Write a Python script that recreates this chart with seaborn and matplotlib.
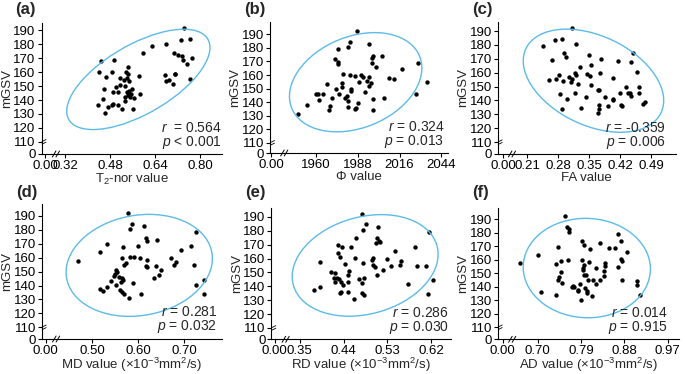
import numpy as np
import matplotlib
matplotlib.use("Agg")
import matplotlib.pyplot as plt
import seaborn as sns
from matplotlib.patches import Ellipse

sns.set_style("ticks")
plt.rcParams["font.family"] = ["Liberation Sans", "DejaVu Sans"]
plt.rcParams["mathtext.fontset"] = "custom"
plt.rcParams["mathtext.rm"] = "Liberation Sans"
plt.rcParams["mathtext.it"] = "Liberation Sans:italic"
plt.rcParams["mathtext.bf"] = "Liberation Sans:bold"

# ---------------- data ----------------
a_x = [0.740, 0.763, 0.731, 0.679, 0.629, 0.598, 0.447, 0.495, 0.707, 0.722,
       0.734, 0.738, 0.769, 0.751, 0.442, 0.487, 0.466, 0.542, 0.536, 0.542,
       0.515, 0.539, 0.582, 0.530, 0.545, 0.514, 0.501, 0.533, 0.676, 0.678,
       0.708, 0.710, 0.689, 0.702, 0.763, 0.458, 0.490, 0.507, 0.538, 0.557,
       0.547, 0.553, 0.542, 0.532, 0.550, 0.563, 0.584, 0.453, 0.534, 0.436,
       0.490, 0.485, 0.474, 0.507, 0.523, 0.561, 0.463]
a_y = [191.9, 184.0, 182.9, 180.2, 178.8, 173.8, 167.9, 168.6, 173.8, 172.1,
       171.4, 168.8, 169.8, 165.5, 160.2, 159.8, 156.7, 163.6, 159.8, 159.0,
       155.7, 155.7, 157.4, 154.0, 153.8, 150.7, 149.5, 150.2, 157.9, 153.8,
       159.0, 158.3, 154.3, 151.4, 154.8, 147.6, 145.5, 145.5, 145.7, 147.9,
       146.4, 144.5, 143.6, 142.4, 142.4, 141.7, 144.5, 140.5, 139.3, 136.4,
       137.4, 136.4, 135.0, 136.4, 133.8, 133.8, 131.0]

b_x = [1987.5, 1983.0, 1975.0, 1981.7, 1995.8, 1972.5, 1974.6, 1974.6, 1998.0, 1997.4,
       2004.5, 1997.6, 2000.5, 2017.5, 2028.3, 2034.3, 2027.1, 2008.8, 2012.2, 1977.9,
       1983.0, 1986.0, 1990.2, 1991.8, 1995.8, 1994.2, 1996.9, 1989.1, 1995.4, 1992.7,
       1983.3, 1983.7, 1977.5, 1977.5, 1973.4, 1967.4, 1970.7, 1975.6, 1979.3, 1960.2,
       1961.3, 1964.5, 1962.2, 1980.8, 1981.5, 1969.4, 1968.5, 1954.0, 1948.1, 1981.7,
       1986.9, 1986.0, 1988.0, 1998.0, 2005.9, 1998.5]
b_y = [192.4, 184.5, 179.3, 180.4, 182.9, 171.6, 169.8, 167.9, 174.0, 172.3,
       174.0, 169.1, 165.7, 164.2, 168.6, 155.1, 146.0, 157.6, 157.1, 160.6,
       159.8, 159.5, 160.0, 158.3, 158.3, 155.8, 154.3, 154.6, 151.9, 147.7,
       149.7, 148.0, 154.3, 151.1, 149.7, 153.6, 143.3, 146.0, 143.3, 146.0,
       145.7, 145.7, 141.6, 144.8, 140.8, 137.2, 134.2, 137.9, 131.0, 136.6,
       135.5, 134.7, 139.2, 142.3, 143.3, 134.0]

c_x = [0.312, 0.247, 0.274, 0.288, 0.320, 0.267, 0.294, 0.297, 0.351, 0.376,
       0.415, 0.444, 0.450, 0.458, 0.355, 0.330, 0.318, 0.321, 0.345, 0.375,
       0.352, 0.281, 0.305, 0.259, 0.276, 0.292, 0.312, 0.310, 0.324, 0.354,
       0.405, 0.434, 0.463, 0.370, 0.373, 0.438, 0.442, 0.420, 0.464, 0.446,
       0.319, 0.284, 0.301, 0.344, 0.387, 0.404, 0.404, 0.373, 0.392, 0.422,
       0.424, 0.472, 0.476, 0.290, 0.332, 0.373, 0.370]
c_y = [192.4, 179.2, 183.3, 184.5, 180.6, 168.9, 174.2, 171.6, 172.5, 169.6,
       168.6, 167.9, 174.2, 160.3, 165.5, 163.9, 160.0, 158.3, 159.3, 159.8,
       157.6, 158.1, 157.1, 154.5, 155.3, 154.3, 155.3, 153.6, 151.7, 151.2,
       156.2, 149.7, 149.7, 147.6, 147.9, 145.6, 145.1, 145.6, 145.6, 143.2,
       145.1, 144.4, 141.3, 142.3, 142.7, 141.3, 140.4, 136.8, 136.3, 136.8,
       135.8, 137.5, 138.7, 133.9, 134.4, 133.9, 130.8]

d_x = [0.578, 0.586, 0.583, 0.612, 0.618, 0.619, 0.640, 0.600, 0.567, 0.533,
       0.726, 0.716, 0.693, 0.469, 0.516, 0.565, 0.583, 0.592, 0.603, 0.619,
       0.573, 0.570, 0.618, 0.619, 0.639, 0.672, 0.683, 0.679, 0.721, 0.650,
       0.645, 0.635, 0.551, 0.554, 0.549, 0.547, 0.558, 0.565, 0.567, 0.541,
       0.563, 0.589, 0.552, 0.516, 0.524, 0.532, 0.561, 0.564, 0.570, 0.606,
       0.580, 0.744, 0.727, 0.744]
d_y = [191.9, 184.5, 180.5, 182.9, 174.0, 171.7, 172.6, 168.6, 167.9, 169.8,
       178.8, 168.6, 165.5, 157.4, 163.8, 159.8, 160.2, 160.7, 159.8, 158.3,
       156.0, 155.0, 154.3, 153.1, 154.3, 159.5, 157.1, 154.8, 154.8, 151.2,
       147.6, 145.5, 151.2, 150.0, 148.3, 147.1, 146.0, 145.5, 144.0, 143.1,
       142.4, 141.9, 140.7, 137.6, 136.4, 139.3, 136.9, 135.2, 134.0, 133.6,
       131.0, 144.3, 140.7, 134.0]

e_x = [0.478, 0.487, 0.479, 0.510, 0.466, 0.508, 0.512, 0.514, 0.506, 0.428,
       0.437, 0.455, 0.428, 0.432, 0.545, 0.586, 0.615, 0.392, 0.464, 0.479,
       0.443, 0.498, 0.500, 0.500, 0.505, 0.530, 0.538, 0.520, 0.558, 0.555,
       0.590, 0.508, 0.452, 0.449, 0.415, 0.422, 0.420, 0.426, 0.430, 0.423,
       0.435, 0.438, 0.472, 0.482, 0.478, 0.450, 0.435, 0.433, 0.449, 0.392,
       0.380, 0.478, 0.481, 0.462, 0.573, 0.610, 0.613, 0.624]
e_y = [192.4, 184.7, 180.7, 183.1, 174.5, 174.5, 172.8, 172.1, 171.6, 169.9,
       168.3, 168.7, 164.0, 160.9, 165.6, 168.7, 179.5, 157.7, 160.1, 156.8,
       155.8, 158.9, 160.1, 155.4, 154.2, 159.7, 154.9, 151.8, 158.2, 155.4,
       154.9, 148.4, 151.3, 148.2, 150.1, 149.6, 145.8, 145.8, 145.3, 142.9,
       142.9, 141.3, 145.3, 145.8, 142.5, 142.9, 136.2, 135.3, 136.2, 139.4,
       137.7, 135.1, 134.1, 131.0, 141.7, 154.9, 134.6, 144.6]

f_x = [0.756, 0.760, 0.764, 0.766, 0.663, 0.701, 0.742, 0.706, 0.739, 0.737,
       0.748, 0.762, 0.748, 0.744, 0.742, 0.751, 0.791, 0.796, 0.808, 0.829,
       0.848, 0.860, 0.867, 0.873, 0.886, 0.873, 0.875, 0.866, 0.876, 0.907,
       0.907, 0.913, 0.793, 0.807, 0.796, 0.795, 0.794, 0.821, 0.840, 0.839,
       0.838, 0.837, 0.830, 0.814, 0.800, 0.796, 0.805, 0.821, 0.788, 0.774,
       0.776, 0.772, 0.799, 0.784, 0.784, 0.803, 0.803, 0.812, 0.789]
f_y = [192.4, 184.5, 182.9, 180.4, 157.6, 163.7, 169.4, 136.2, 134.2, 156.8,
       159.3, 159.8, 150.6, 147.3, 145.0, 142.8, 173.5, 171.1, 167.9, 172.3,
       168.6, 168.6, 178.9, 173.8, 165.4, 160.5, 159.3, 154.3, 145.3, 144.5,
       141.1, 133.7, 159.8, 158.0, 155.8, 153.9, 152.6, 153.9, 157.6, 155.1,
       151.4, 147.7, 145.3, 145.3, 149.0, 149.0, 145.3, 142.3, 142.1, 140.8,
       139.6, 139.9, 139.2, 136.6, 137.9, 136.6, 135.5, 133.5, 130.5]

panel_letters = ["(a)", "(b)", "(c)", "(d)", "(e)", "(f)"]
x_titles = ["T$_2$-nor value", "\u03a6 value", "FA value",
            "MD value (\u00d710$^{-3}$mm$^2$/s)",
            "RD value (\u00d710$^{-3}$mm$^2$/s)",
            "AD value (\u00d710$^{-3}$mm$^2$/s)"]
y_title = "mGSV"
r_texts = ["$r$  = 0.564", "$r$ = 0.324", "$r$ = -0.359",
           "$r$ = 0.281", "$r$ = 0.286", "$r$ = 0.014"]
p_texts = ["$p$ < 0.001", "$p$ = 0.013", "$p$ = 0.006",
           "$p$ = 0.032", "$p$ = 0.030", "$p$ = 0.915"]
x_tick_labels = [["0.00", "0.32", "0.48", "0.64", "0.80"],
                 ["0.00", "1960", "1988", "2016", "2044"],
                 ["0.00", "0.21", "0.28", "0.35", "0.42", "0.49"],
                 ["0.00", "0.50", "0.60", "0.70"],
                 ["0.00", "0.35", "0.44", "0.53", "0.62"],
                 ["0.00", "0.70", "0.79", "0.88", "0.97"]]
y_tick_labels = ["0", "110", "120", "130", "140", "150", "160", "170", "180", "190"]
y_tick_values = [110, 120, 130, 140, 150, 160, 170, 180, 190]

# ---------------- layout / axis-break geometry ----------------
# axes rectangles in figure pixels: left, right, top, bottom
rects_px = [(41.5, 222.0, 23.0, 154.0), (270.0, 448.0, 22.0, 153.0), (497.7, 676.0, 21.7, 154.0),
            (41.7, 221.7, 204.3, 339.0), (271.3, 450.7, 207.7, 339.3), (497.7, 678.7, 207.7, 339.3)]
# x limits, and where the broken-axis "0.00" tick sits
xlims = [(0.2368, 0.8762), (1929.1, 2048.5), (0.1434, 0.5468),
         (0.3896, 0.7822), (0.2917, 0.6598), (0.6169, 0.9928)]
x_zero_pos = [0.2509, 1929.8, 0.1555, 0.3986, 0.2987, 0.6273]
# y limits; bottom is where the broken-axis "0" tick sits
ylims = [(101.3, 195.2), (102.5, 199.1), (101.5, 196.7),
         (101.6, 198.4), (101.8, 196.7), (101.1, 198.5)]
text_right = [1.0, 0.98, 0.942, 0.975, 0.99, 0.94]

W, H = 685, 374
fig = plt.figure(figsize=(W / 100, H / 100), dpi=100)

xs = [a_x, b_x, c_x, d_x, e_x, f_x]
ys = [a_y, b_y, c_y, d_y, e_y, f_y]
ell_color = "#5cbbe8"


def conf_ellipse(ax, x, y, n_std, **kw):
    x = np.asarray(x, float)
    y = np.asarray(y, float)
    cov = np.cov(x, y)
    vals, vecs = np.linalg.eigh(cov)
    order = vals.argsort()[::-1]
    vals, vecs = vals[order], vecs[:, order]
    angle = np.degrees(np.arctan2(vecs[1, 0], vecs[0, 0]))
    w, h = 2 * n_std * np.sqrt(vals)
    ax.add_patch(Ellipse((x.mean(), y.mean()), w, h, angle=angle, fill=False, **kw))


for i in range(6):
    l, r, t, b = rects_px[i]
    ax = fig.add_axes([l / W, 1 - b / H, (r - l) / W, (b - t) / H])
    sns.scatterplot(x=xs[i], y=ys[i], ax=ax, color="black", s=10, linewidth=0, legend=False)
    conf_ellipse(ax, xs[i], ys[i], 2.5, edgecolor=ell_color, linewidth=1.0)

    ax.set_xlim(*xlims[i])
    ax.set_ylim(*ylims[i])
    labs = x_tick_labels[i]
    xt = [x_zero_pos[i]] + [float(v) for v in labs[1:]]
    ax.set_xticks(xt)
    ax.set_xticklabels(labs)
    ax.set_yticks([ylims[i][0]] + y_tick_values)
    ax.set_yticklabels(y_tick_labels)
    ax.tick_params(axis="both", direction="out", length=3, width=0.8, pad=1.2,
                   labelsize=9.5, colors="black")
    for s in ("top", "right"):
        ax.spines[s].set_visible(False)
    for s in ("left", "bottom"):
        ax.spines[s].set_linewidth(0.8)
        ax.spines[s].set_color("black")

    ax.set_xlabel(x_titles[i], fontsize=9.5, labelpad=0.3 if i < 3 else -0.6)
    ax.set_ylabel(y_title, fontsize=9.5, labelpad=0.3)

    ax.text(text_right[i], 0.20, r_texts[i], transform=ax.transAxes,
            ha="right", va="center", fontsize=10)
    ax.text(text_right[i], 0.09, p_texts[i], transform=ax.transAxes,
            ha="right", va="center", fontsize=10)

    # axis-break marks (decorations)
    wpx, hpx = (r - l), (b - t)
    fx = 0.08
    for dx in (-1.8, 1.8):
        ax.plot([fx + (dx - 1.8) / wpx, fx + (dx + 1.8) / wpx], [-3 / hpx, 3 / hpx],
                transform=ax.transAxes, color="black", lw=0.7, clip_on=False)
    yf = (110 - ylims[i][0]) / (ylims[i][1] - ylims[i][0])
    for dy in (-1.3, 1.3):
        ax.plot([0.5 / wpx, 4.5 / wpx], [yf + (dy - 1.0) / hpx, yf + (dy + 1.0) / hpx],
                transform=ax.transAxes, color="black", lw=0.6, clip_on=False)

    top_px = 2 if i < 3 else 185
    fig.text((l - 26) / W, 1 - top_px / H, panel_letters[i],
             fontsize=12, fontweight="bold", ha="left", va="top")

fig.savefig("out.png", dpi=100)
